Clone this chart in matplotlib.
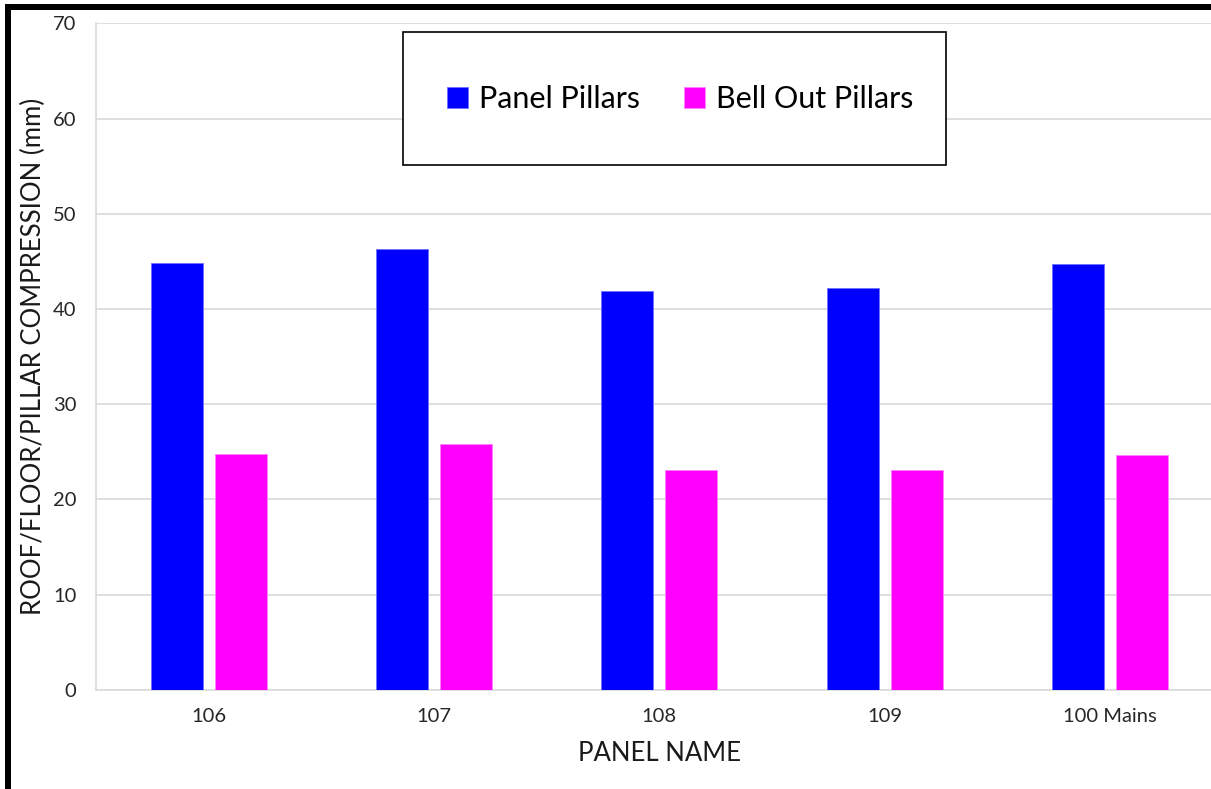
import numpy as np
import matplotlib
matplotlib.use('Agg')
import matplotlib.pyplot as plt
from matplotlib.patches import Rectangle

plt.rcParams['font.family'] = ['Lato', 'DejaVu Sans']

panels = ['106', '107', '108', '109', '100 Mains']
panel_pillars = [44.8, 46.3, 41.9, 42.2, 44.7]
bell_out_pillars = [24.8, 25.8, 23.1, 23.1, 24.7]

W, H = 1211, 789
fig = plt.figure(figsize=(W/100, H/100), dpi=100)

# axes runs past the right edge like the cropped original
ax = fig.add_axes([96/W, 1 - 689.7/H, 1126.5/W, 666.4/H])

x = np.arange(len(panels))
bw = 0.231
off = 0.142
ax.bar(x - off, panel_pillars, bw, color='#0000ff', edgecolor='#6f6fff', linewidth=0.6, label='Panel Pillars', zorder=3)
ax.bar(x + off, bell_out_pillars, bw, color='#ff00ff', edgecolor='#ff80ff', linewidth=0.6, label='Bell Out Pillars', zorder=3)

ax.set_xlim(-0.5, len(panels) - 0.5)
ax.set_ylim(0, 70)
ax.set_yticks(np.arange(0, 71, 10))
ax.set_xticks(x)
ax.set_xticklabels(panels)
ax.tick_params(axis='both', length=0, labelsize=14.5, colors='#404040', labelcolor='#262626')
ax.tick_params(axis='x', pad=13)
ax.tick_params(axis='y', pad=14)
ax.grid(axis='y', color='#d9d9d9', linewidth=1.2, zorder=0)
for s in ['top', 'right']:
    ax.spines[s].set_visible(False)
for s in ['left', 'bottom']:
    ax.spines[s].set_color('#d9d9d9')
    ax.spines[s].set_linewidth(1.2)

ax.set_xlabel('PANEL NAME', fontsize=18.5, color='#1a1a1a', labelpad=12)
ax.set_ylabel('ROOF/FLOOR/PILLAR COMPRESSION (mm)', fontsize=18.5, color='#1a1a1a')
ax.yaxis.set_label_coords((46 - 96) / 1126.5, 0.5)

# legend box drawn separately so its size matches
fig.patches.append(Rectangle((403/W, 1 - 165/H), 543/W, 133/H, transform=fig.transFigure,
                             facecolor='white', edgecolor='black', linewidth=1.2, zorder=5))
leg = fig.legend(loc='center', bbox_to_anchor=(680/W, 1 - 99/H), ncol=2, frameon=False,
                 fontsize=22, handlelength=0.7, handleheight=0.7, handletextpad=0.35,
                 columnspacing=1.45)
leg.set_zorder(6)

# black border of the screenshot
fig.patches.append(Rectangle((5/W, 0), 6/W, 1 - 4/H, transform=fig.transFigure,
                             facecolor='black', edgecolor='none', zorder=10))
fig.patches.append(Rectangle((5/W, 1 - 10/H), 1, 6/H, transform=fig.transFigure,
                             facecolor='black', edgecolor='none', zorder=10))

fig.savefig('out.png', dpi=100)
